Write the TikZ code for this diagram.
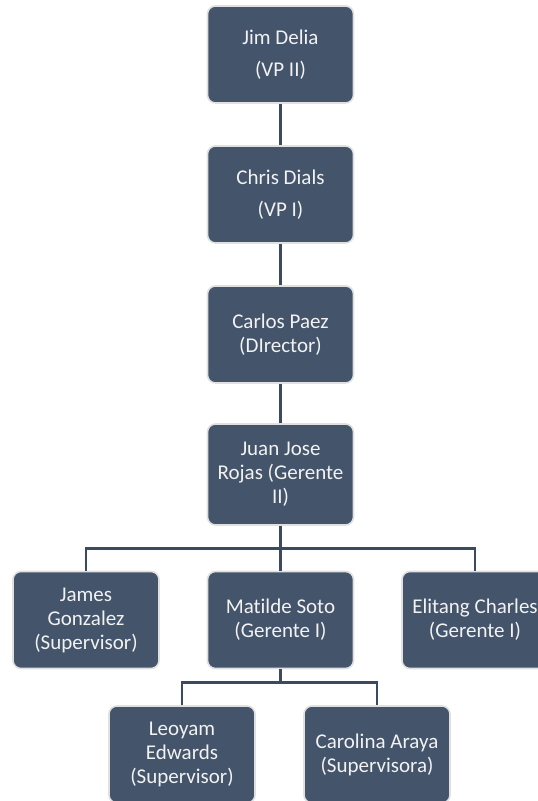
\documentclass[tikz,border=0pt]{standalone}
\usepackage{fontspec}
\setmainfont[Ligatures=NoCommon]{Carlito}
\usetikzlibrary{shapes,arrows}
\definecolor{boxblue}{HTML}{44546A}
\definecolor{linkblue}{HTML}{3B4A5E}
\definecolor{textwhite}{HTML}{F2F2F2}
\tikzstyle{every picture}=[x=1pt, y=1pt, node distance=140pt]

\begin{document}
\begin{tikzpicture}[
	personnode/.style={
		rectangle,minimum width=146pt,minimum height=97pt,rounded corners=8pt,
		align=center,inner sep=2pt,fill=boxblue,draw=black!12,line width=1.6pt,
		text=textwhite,font=\fontsize{21}{24}\selectfont},
	link/.style={draw=linkblue,line width=2.6pt}
	]
	\useasboundingbox (0,0) rectangle (538,-801);
	\clip (0,0) rectangle (538,-801);
	% TOP CHAIN
	\node [personnode] (jimDelia) at (280.5,-54.5) {Jim Delia\\[8pt](VP II)};
	\node [personnode, below of=jimDelia] (chrisDials) {Chris Dials\\[8pt](VP I)};
	\node [personnode, below of=chrisDials] (carlosPaez) {Carlos Paez\\(DIrector)};
	\node [personnode, below of=carlosPaez, minimum height=101pt] (juanRojas) {Juan Jose\\Rojas (Gerente\\II)};
 	\draw [link] (jimDelia) -- (chrisDials);
 	\draw [link] (chrisDials) -- (carlosPaez);
 	\draw [link] (carlosPaez) -- (juanRojas);
	% GERENTE II
	\begin{scope}[node distance=194.5pt]
		\coordinate (busA) at (280.5,-548.7);
		\node [personnode] (matildeSoto) at (280.5,-620) {Matilde Soto\\(Gerente I)};
		\node [personnode, left of=matildeSoto] (jamesGonzalez) {James\\Gonzalez\\(Supervisor)};
		\node [personnode, right of=matildeSoto] (elitangCharles) {Elitang Charles\\(Gerente I)};
		\draw [link] (juanRojas) -- (busA);
		\draw [link] (jamesGonzalez.north) |- (busA) -| (elitangCharles.north);
		\draw [link] (busA) -- (matildeSoto);
	\end{scope}
	% GERENTE I
	\begin{scope}[node distance=195pt]
		\coordinate (busB) at (280.5,-682.7);
		\node [personnode] (leoyamEdwards) at (182,-754.5) {Leoyam\\Edwards\\(Supervisor)};
		\node [personnode, right of=leoyamEdwards] (carolinaAraya) {Carolina Araya\\(Supervisora)};
		\draw [link] (matildeSoto) -- (busB);
		\draw [link] (leoyamEdwards.north) |- (busB) -| (carolinaAraya.north);
	\end{scope}
\end{tikzpicture}
\end{document}
